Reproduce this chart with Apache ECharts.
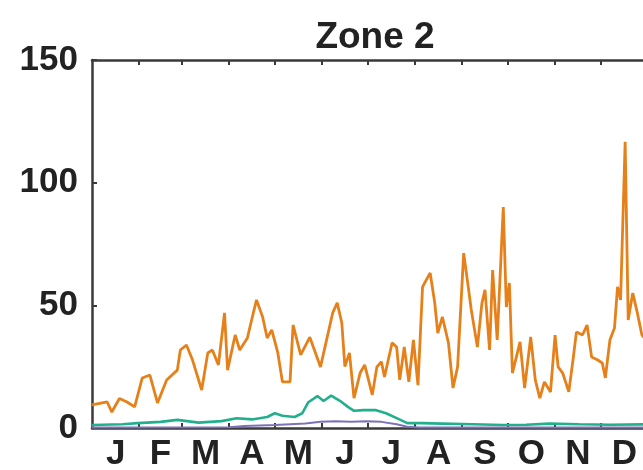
<!DOCTYPE html>
<html>
<head>
<meta charset="utf-8">
<script src="https://cdn.jsdelivr.net/npm/echarts@6/dist/echarts.min.js"></script>
<style>
html,body{margin:0;padding:0;background:#fff;}
#chart{width:643px;height:470px;}
</style>
</head>
<body>
<div id="chart"></div>
<script>
const titleText = 'Zone 2';
const monthLetters = ['J','F','M','A','M','J','J','A','S','O','N','D'];
const monthStarts = [31,59,90,120,151,181,212,243,273,304,334];
const monthMids = [15.5,45,74.5,105,135.5,166,196.5,227.5,258,288.5,319,349.5];
const yTicks = [0,50,100,150];

const orangeDays = [0,5,10,13,18,23,28,33,38,43,49,56,58,62,66,72,76,79,83,87,89,94,97,102,104,108,112,115,118,122,125,130,132,137,143,150,154,158,161,164,166,169,172,176,179,184,187,190,192,197,200,202,205,208,211,214,217,222,225,227,230,234,237,240,244,247,249,253,256,258,261,263,266,270,272,274,276,281,284,288,291,294,297,301,304,306,309,313,316,318,322,325,328,332,335,337,340,343,345,347,350,352,355,358,361,365];
const orangeVals = [9.4,10,10.6,6.5,12,10.6,8.6,20.4,21.6,10.2,19.6,23.6,31.8,33.8,27.7,15.5,30.6,31.8,25.7,46.9,23.6,37.9,31.8,36.7,42,52.2,45.3,36.7,40,30.6,18.8,18.8,42,29.8,37,24.9,35.9,46.9,51,42.8,25,30.6,12.2,22.4,25.7,13.5,24.9,27,20.8,34.7,33,19.6,33,18.8,35.9,17.5,57.5,63.2,51,38.7,45.3,34.7,16.3,24.9,71.3,57.5,48.1,33,51,56.3,31.8,64.4,35.9,90.1,49.3,59.1,22.4,35.1,16.3,37.1,19.6,12.2,18.8,14.7,37.9,24.9,22.4,14.7,28.9,39.1,37.9,42,28.9,27.7,26.5,20.4,35.9,40.8,57.5,52.2,116.7,44,55,46.9,37.9,35];

const tealDays = [0,20,30,45,56,70,85,95,105,115,120,125,133,138,142,148,152,157,163,168,172,178,186,193,200,207,216,230,250,270,285,300,320,340,365];
const tealVals = [1.2,1.5,2,2.5,3.3,2.2,2.8,4,3.5,4.5,6,5,4.5,6,10.5,13,11,13.2,11,8.6,7,7.3,7.3,6,4,2,2,1.8,1.5,1.2,1.3,1.8,1.5,1.3,1.5];

const purpleDays = [0,90,100,110,120,130,140,150,160,170,180,190,200,207,215,365];
const purpleVals = [0.2,0.3,0.8,1,1.2,1.5,1.8,2.5,2.8,2.5,2.8,2.5,1.5,0.5,0.2,0.2];

const zip = (a,b)=>a.map((d,i)=>[d,b[i]]);
const axisColor = '#3a3a3a';
const textColor = '#222';
const fontFam = '"Liberation Sans", Arial, sans-serif';

const chart = echarts.init(document.getElementById('chart'));
const xBase = {
  type:'value', min:0, max:365,
  axisLine:{show:true, onZero:false, lineStyle:{color:axisColor, width:2.5}},
  axisTick:{show:true, inside:true, length:5, customValues:monthStarts, lineStyle:{color:axisColor, width:2}},
  splitLine:{show:false}
};
const yBase = {
  type:'value', min:0, max:150, interval:50,
  axisLine:{show:true, onZero:false, lineStyle:{color:axisColor, width:2.5}},
  axisTick:{show:true, inside:true, length:5, lineStyle:{color:axisColor, width:2}},
  splitLine:{show:false}
};
chart.setOption({
  animation:false,
  backgroundColor:'#fff',
  title:{text:titleText, left:370, textAlign:'center', top:14,
    textStyle:{fontSize:37, fontWeight:'bold', color:textColor, fontFamily:fontFam}},
  grid:{left:92, top:60, width:556, height:368, containLabel:false, outerBoundsMode:'none'},
  xAxis:[
    Object.assign({}, xBase, {position:'bottom',
      axisLabel:{show:true, customValues:monthMids, margin:9,
        formatter:(v)=>monthLetters[monthMids.indexOf(v)],
        fontSize:35, fontWeight:'bold', color:textColor, fontFamily:fontFam}}),
    Object.assign({}, xBase, {position:'top', axisLabel:{show:false}})
  ],
  yAxis:[
    Object.assign({}, yBase, {position:'left',
      axisLabel:{show:true, margin:14, fontSize:35, fontWeight:'bold', color:textColor, fontFamily:fontFam,
        customValues:yTicks}}),
    Object.assign({}, yBase, {position:'right', axisLabel:{show:false}})
  ],
  series:[
    {type:'line', data:zip(orangeDays, orangeVals), showSymbol:false, lineStyle:{color:'#e6801a', width:2.8}, itemStyle:{color:'#e6801a'}, z:2},
    {type:'line', data:zip(tealDays, tealVals), showSymbol:false, lineStyle:{color:'#22b08c', width:2.6}, itemStyle:{color:'#22b08c'}, z:3},
    {type:'line', data:zip(purpleDays, purpleVals), showSymbol:false, lineStyle:{color:'#7c72b8', width:2}, itemStyle:{color:'#7c72b8'}, z:4}
  ]
});
</script>
</body>
</html>
